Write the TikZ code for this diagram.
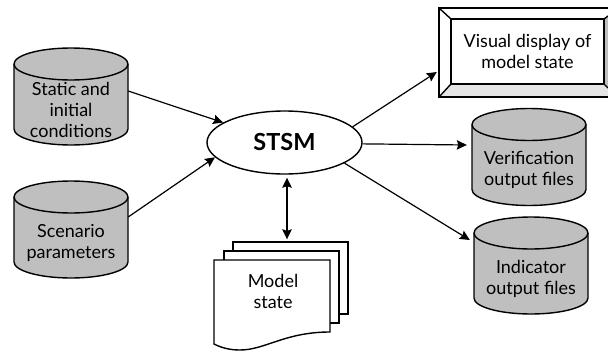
\documentclass[tikz,border=0pt]{standalone}
\usepackage{fontspec}
\setmainfont{Lato}
\usetikzlibrary{arrows.meta,shapes.geometric}

\newcommand{\cylnode}[4]{
    \node (#1) at (#2,#3) [minimum width=114pt, minimum height=97pt, inner sep=0pt] {};
    \draw[cyl] ({#2-57},{#3-32.5}) arc[start angle=180, end angle=0, x radius=57pt, y radius=16pt]
        -- ({#2+57},{#3+32.5}) arc[start angle=0, end angle=-180, x radius=57pt, y radius=16pt] -- cycle;
    \draw[cyl, fill=none] ({#2-57},{#3-32.5}) arc[start angle=180, end angle=360, x radius=57pt, y radius=16pt];
    \node (#1l) at (#2,{#3+13}) [txt] {#4};
}

\begin{document}
\begin{tikzpicture}
[
                     x =  1pt,
                     y = -1pt,
                    >= {Stealth[length=10pt,width=9.5pt,inset=1.5pt]},
                   cyl/.style = { draw=black, fill=black!25, line width=1.4pt },
                   txt/.style = { draw=none, fill=none, inner sep=0pt, align=center, font=\fontsize{18}{21}\selectfont },
                  page/.style = { draw=black, fill=white, line width=1.4pt, inner sep=0pt },
                 frame/.style = { line width=1.4pt },
                   con/.style = { line width=1.2pt }
]
    \useasboundingbox (0,0) rectangle (608,351);

    \cylnode{static}{71}{96.5}{Static and\\initial\\conditions}
    \cylnode{scen}{71}{229.5}{Scenario\\parameters}
    \cylnode{verif}{529}{157}{Verification\\output files}
    \cylnode{indic}{531}{265.5}{Indicator\\output files}

    \node (stsm) at (284.5,142.5) [draw=black, fill=white, line width=1.4pt, ellipse, minimum width=155pt, minimum height=63pt, inner sep=0pt, font=\fontsize{23.5}{26}\selectfont\bfseries] {STSM};

    % display
    \node (dispframe) at (523.5,52.5) [minimum width=169pt, minimum height=89pt, inner sep=0pt] {};
    \fill[black!10] (439,97) -- (451,84) -- (604,84) -- (608,88) -- (608,97) -- cycle;
    \fill[black!25] (604,19) -- (608,16) -- (608,88) -- (604,84) -- cycle;
    \draw[frame] (608,8) -- (439,8) -- (439,97) -- (608,97);
    \draw[frame] (439,8) -- (451,19);
    \draw[frame] (439,97) -- (451,84);
    \draw[frame] (604,19) -- (608,16);
    \draw[frame] (604,84) -- (608,88);
    \node (disp) at (527.5,51.5) [draw=black, line width=1.4pt, fill=white, minimum width=153pt, minimum height=65pt, inner sep=0pt, align=center, font=\fontsize{18}{21}\selectfont] {Visual display of\\model state};

    % stacked pages
    \node (pageback) at (290.5,278) [page, draw, minimum width=115pt, minimum height=72pt] {};
    \node (pagemid)  at (281.5,287) [page, draw, minimum width=115pt, minimum height=72pt] {};
    \draw[page] (214,260) -- (330,260) -- (330,332) .. controls (285,332) and (265,350) .. (240,350) .. controls (230,350) and (222,348) .. (214,344) -- cycle;
    \node (state) at (273,291.5) [txt] {Model\\state};

    \draw[->,con] ([yshift=5.5pt]static.east) -- (stsm.162);
    \draw[->,con] ([yshift=12.5pt]scen.east) -- (stsm.192.6);
    \draw[->,con] (stsm.13) -- ([xshift=-2pt,yshift=-19.5pt]dispframe.west);
    \draw[->,con] (stsm.-1) -- ([xshift=-5pt,yshift=12pt]verif.west);
    \draw[->,con] (stsm.-19.3) -- ([xshift=-4pt,yshift=25.5pt]indic.west);
    \draw[<->,con] ([xshift=2.5pt,yshift=-3pt]stsm.south) -- ([xshift=-3.5pt,yshift=2pt]pageback.north);

\end{tikzpicture}
\end{document}
